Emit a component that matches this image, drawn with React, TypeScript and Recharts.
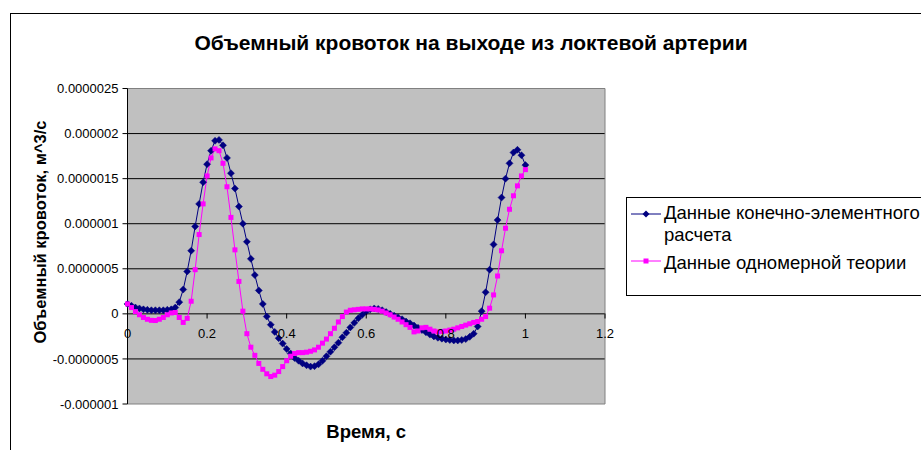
import React from 'react';
import {
  LineChart,
  Line,
  XAxis,
  YAxis,
  CartesianGrid,
  ReferenceArea,
  Legend,
} from 'recharts';

const FONT = "'Liberation Sans', Arial, sans-serif";

const TITLE = 'Объемный кровоток на выходе из локтевой артерии';
const X_TITLE = 'Время, с';
const Y_TITLE = 'Объемный кровоток, м^3/с';
const FEM_NAME = 'Данные конечно-элементного расчета';
const ONED_NAME = 'Данные одномерной теории';

// time, s
const time = [
  0, 0.01, 0.02, 0.03, 0.04, 0.05, 0.06, 0.07, 0.08, 0.09,
  0.1, 0.11, 0.12, 0.13, 0.14, 0.15, 0.16, 0.17, 0.18, 0.19,
  0.2, 0.21, 0.22, 0.23, 0.24, 0.25, 0.26, 0.27, 0.28, 0.29,
  0.3, 0.31, 0.32, 0.33, 0.34, 0.35, 0.36, 0.37, 0.38, 0.39,
  0.4, 0.41, 0.42, 0.43, 0.44, 0.45, 0.46, 0.47, 0.48, 0.49,
  0.5, 0.51, 0.52, 0.53, 0.54, 0.55, 0.56, 0.57, 0.58, 0.59,
  0.6, 0.61, 0.62, 0.63, 0.64, 0.65, 0.66, 0.67, 0.68, 0.69,
  0.7, 0.71, 0.72, 0.73, 0.74, 0.75, 0.76, 0.77, 0.78, 0.79,
  0.8, 0.81, 0.82, 0.83, 0.84, 0.85, 0.86, 0.87, 0.88, 0.89,
  0.9, 0.91, 0.92, 0.93, 0.94, 0.95, 0.96, 0.97, 0.98, 0.99,
  1,
];

// flow values below are in units of 1e-7 m^3/s
const femFlow = [
  1.1, 0.9, 0.7, 0.6, 0.5, 0.45, 0.4, 0.4, 0.4, 0.4,
  0.45, 0.5, 0.7, 1.3, 2.7, 4.7, 7.0, 9.7, 12.2, 14.6,
  16.6, 18.1, 19.2, 19.3, 18.7, 17.3, 15.6, 13.9, 11.9, 10.0,
  8.0, 6.1, 4.3, 2.6, 1.1, -0.3, -1.2, -2.0, -2.7, -3.3,
  -3.9, -4.4, -4.9, -5.2, -5.5, -5.7, -5.85, -5.8, -5.6, -5.2,
  -4.7, -4.2, -3.7, -3.2, -2.6, -2.1, -1.5, -1.0, -0.5, -0.1,
  0.25, 0.5, 0.6, 0.55, 0.4, 0.2, 0.0, -0.2, -0.4, -0.6,
  -0.85, -1.05, -1.3, -1.55, -1.8, -2.05, -2.3, -2.5, -2.65, -2.75,
  -2.85, -2.9, -2.95, -2.95, -2.9, -2.8, -2.55, -2.2, -1.4, 0.3,
  2.4, 4.9, 7.7, 10.4, 12.9, 15.0, 16.7, 17.9, 18.2, 17.6,
  16.5,
];

const oneDFlow = [
  1.1, 0.7, 0.25, -0.1, -0.4, -0.6, -0.72, -0.74, -0.6, -0.4,
  -0.1, 0.1, 0.15, -0.4, -0.95, -0.5, 1.4, 4.9, 8.8, 12.2,
  15.3, 17.3, 18.3, 18.1, 16.7, 14.1, 10.7, 7.1, 3.6, 0.3,
  -2.2, -3.7, -4.6, -5.5, -6.15, -6.65, -6.95, -6.8, -6.4, -5.85,
  -5.2, -4.7, -4.4, -4.3, -4.3, -4.25, -4.15, -4.0, -3.7, -3.25,
  -2.8, -2.2, -1.6, -0.9, -0.3, 0.2, 0.4, 0.45, 0.5, 0.55,
  0.55, 0.55, 0.5, 0.44, 0.3, 0.1, -0.1, -0.35, -0.6, -0.9,
  -1.2, -1.5, -2.0, -1.9, -1.55, -1.5, -1.7, -1.9, -2.0, -1.95,
  -1.9, -1.8, -1.7, -1.55, -1.4, -1.25, -1.1, -0.95, -0.85, -0.6,
  -0.3, 0.63, 2.1, 4.2, 7.0, 9.5, 11.6, 13.1, 14.2, 15.3,
  16.0,
];

const xTicks = [0, 0.2, 0.4, 0.6, 0.8, 1, 1.2];
const xTickLabels = ['0', '0.2', '0.4', '0.6', '0.8', '1', '1.2'];
const yTicks = [-10, -5, 0, 5, 10, 15, 20, 25];
const yTickLabels = [
  '-0.000001',
  '-0.0000005',
  '0',
  '0.0000005',
  '0.000001',
  '0.0000015',
  '0.000002',
  '0.0000025',
];

const data = time.map((t, i) => ({ t, fem: femFlow[i], oneD: oneDFlow[i] }));

const FEM_COLOR = '#000080';
const ONED_COLOR = '#FF00FF';

// plot box layout
const PLOT_TOP = 88.5;
const PLOT_H = 315;
const Y_MIN = yTicks[0];
const Y_MAX = yTicks[yTicks.length - 1];
// Excel draws the category axis where y = 0
const ZERO_Y = PLOT_TOP + (PLOT_H * Y_MAX) / (Y_MAX - Y_MIN);

function Diamond(props: any) {
  const { cx, cy, index } = props;
  if (cx == null || cy == null) return <g key={index} />;
  const r = 3.5;
  return (
    <polygon
      key={index}
      points={`${cx},${cy - r} ${cx + r},${cy} ${cx},${cy + r} ${cx - r},${cy}`}
      fill={FEM_COLOR}
      stroke={FEM_COLOR}
      strokeWidth={0.5}
    />
  );
}

function Square(props: any) {
  const { cx, cy, index } = props;
  if (cx == null || cy == null) return <g key={index} />;
  const s = 5;
  return <rect key={index} x={cx - s / 2} y={cy - s / 2} width={s} height={s} fill={ONED_COLOR} />;
}

function XTick(props: any) {
  const { x, payload } = props;
  const label = xTickLabels[xTicks.indexOf(payload.value)];
  return (
    <g>
      <line x1={x} x2={x} y1={ZERO_Y} y2={ZERO_Y + 5} stroke="#000" />
      <text x={x} y={ZERO_Y + 24} textAnchor="middle" fontSize={13} fontFamily={FONT} fill="#000">
        {label}
      </text>
    </g>
  );
}

function YTitle() {
  return (
    <text
      x={40}
      y={232}
      transform="rotate(-90 40 232)"
      textAnchor="middle"
      dominantBaseline="central"
      fontSize={16.5}
      fontWeight="bold"
      fontFamily={FONT}
      fill="#000"
    >
      {Y_TITLE}
    </text>
  );
}

function LegendBox() {
  const sample = (color: string, square: boolean) => (
    <svg width={34} height={10} style={{ position: 'absolute', left: 3, top: 0 }}>
      <line x1={1} x2={31} y1={5} y2={5} stroke={color} strokeWidth={1} />
      {square ? (
        <rect x={13.5} y={2.5} width={5} height={5} fill={color} />
      ) : (
        <polygon points="16,1.5 19.5,5 16,8.5 12.5,5" fill={color} />
      )}
    </svg>
  );
  return (
    <div
      style={{
        position: 'relative',
        width: 340,
        height: 97,
        border: '1px solid #000',
        background: '#fff',
        fontFamily: FONT,
        fontSize: 18.5,
        color: '#000',
        lineHeight: '22px',
      }}
    >
      <div style={{ position: 'absolute', left: 0, top: 11 }}>{sample(FEM_COLOR, false)}</div>
      <div style={{ position: 'absolute', left: 37, top: 4, whiteSpace: 'nowrap' }}>
        Данные конечно-элементного
        <br />
        расчета
      </div>
      <div style={{ position: 'absolute', left: 0, top: 58 }}>{sample(ONED_COLOR, true)}</div>
      <div style={{ position: 'absolute', left: 37, top: 54, whiteSpace: 'nowrap' }}>{ONED_NAME}</div>
    </div>
  );
}

export default function App() {
  return (
    <div
      style={{
        position: 'absolute',
        left: 0,
        top: 0,
        width: 921,
        height: 450,
        overflow: 'hidden',
        background: '#fff',
        fontFamily: FONT,
      }}
    >
      <div
        style={{
          position: 'absolute',
          left: 10,
          top: 13,
          width: 1000,
          height: 1000,
          borderLeft: '1px solid #000',
          borderTop: '1px solid #000',
        }}
      />
      <div
        style={{
          position: 'absolute',
          left: 10,
          top: 31,
          width: 922,
          textAlign: 'center',
          fontSize: 21,
          fontWeight: 'bold',
          lineHeight: '24px',
          color: '#000',
        }}
      >
        {TITLE}
      </div>
      <div style={{ position: 'absolute', left: 0, top: 0 }}>
        <LineChart
          width={921}
          height={450}
          data={data}
          margin={{ top: PLOT_TOP, right: 316, bottom: 0, left: 57.5 }}
        >
          <CartesianGrid
            vertical={false}
            stroke="#000"
            fill="#C0C0C0"
            fillOpacity={1}
            horizontalValues={[-5, 0, 5, 10, 15, 20]}
          />
          <ReferenceArea
            x1={0}
            x2={1.2}
            y1={Y_MIN}
            y2={Y_MAX}
            fill="none"
            fillOpacity={0}
            stroke="#808080"
            strokeWidth={1}
            ifOverflow="visible"
          />
          <XAxis
            dataKey="t"
            type="number"
            domain={[0, 1.2]}
            ticks={xTicks}
            interval={0}
            axisLine={false}
            tickLine={false}
            tick={<XTick />}
            height={46}
            label={{
              value: X_TITLE,
              position: 'insideBottom',
              offset: 12,
              style: { fontSize: 18.5, fontWeight: 'bold', fill: '#000', fontFamily: FONT },
            }}
          />
          <YAxis
            type="number"
            domain={[Y_MIN, Y_MAX]}
            ticks={yTicks}
            interval={0}
            width={70}
            allowDataOverflow
            axisLine={{ stroke: '#000' }}
            tickLine={{ stroke: '#000' }}
            tickSize={5}
            tickMargin={4}
            tick={{ fontSize: 13, fill: '#000', fontFamily: FONT }}
            tickFormatter={(v: number) => yTickLabels[yTicks.indexOf(v)]}
            label={{ content: () => <YTitle /> }}
          />
          <Legend
            layout="horizontal"
            align="center"
            verticalAlign="middle"
            wrapperStyle={{ left: 626, top: 197, width: 342 }}
            content={() => <LegendBox />}
          />
          <Line
            type="linear"
            dataKey="fem"
            name={FEM_NAME}
            stroke={FEM_COLOR}
            strokeWidth={1}
            dot={Diamond}
            activeDot={false}
            isAnimationActive={false}
          />
          <Line
            type="linear"
            dataKey="oneD"
            name={ONED_NAME}
            stroke={ONED_COLOR}
            strokeWidth={1}
            dot={Square}
            activeDot={false}
            isAnimationActive={false}
          />
        </LineChart>
      </div>
    </div>
  );
}
